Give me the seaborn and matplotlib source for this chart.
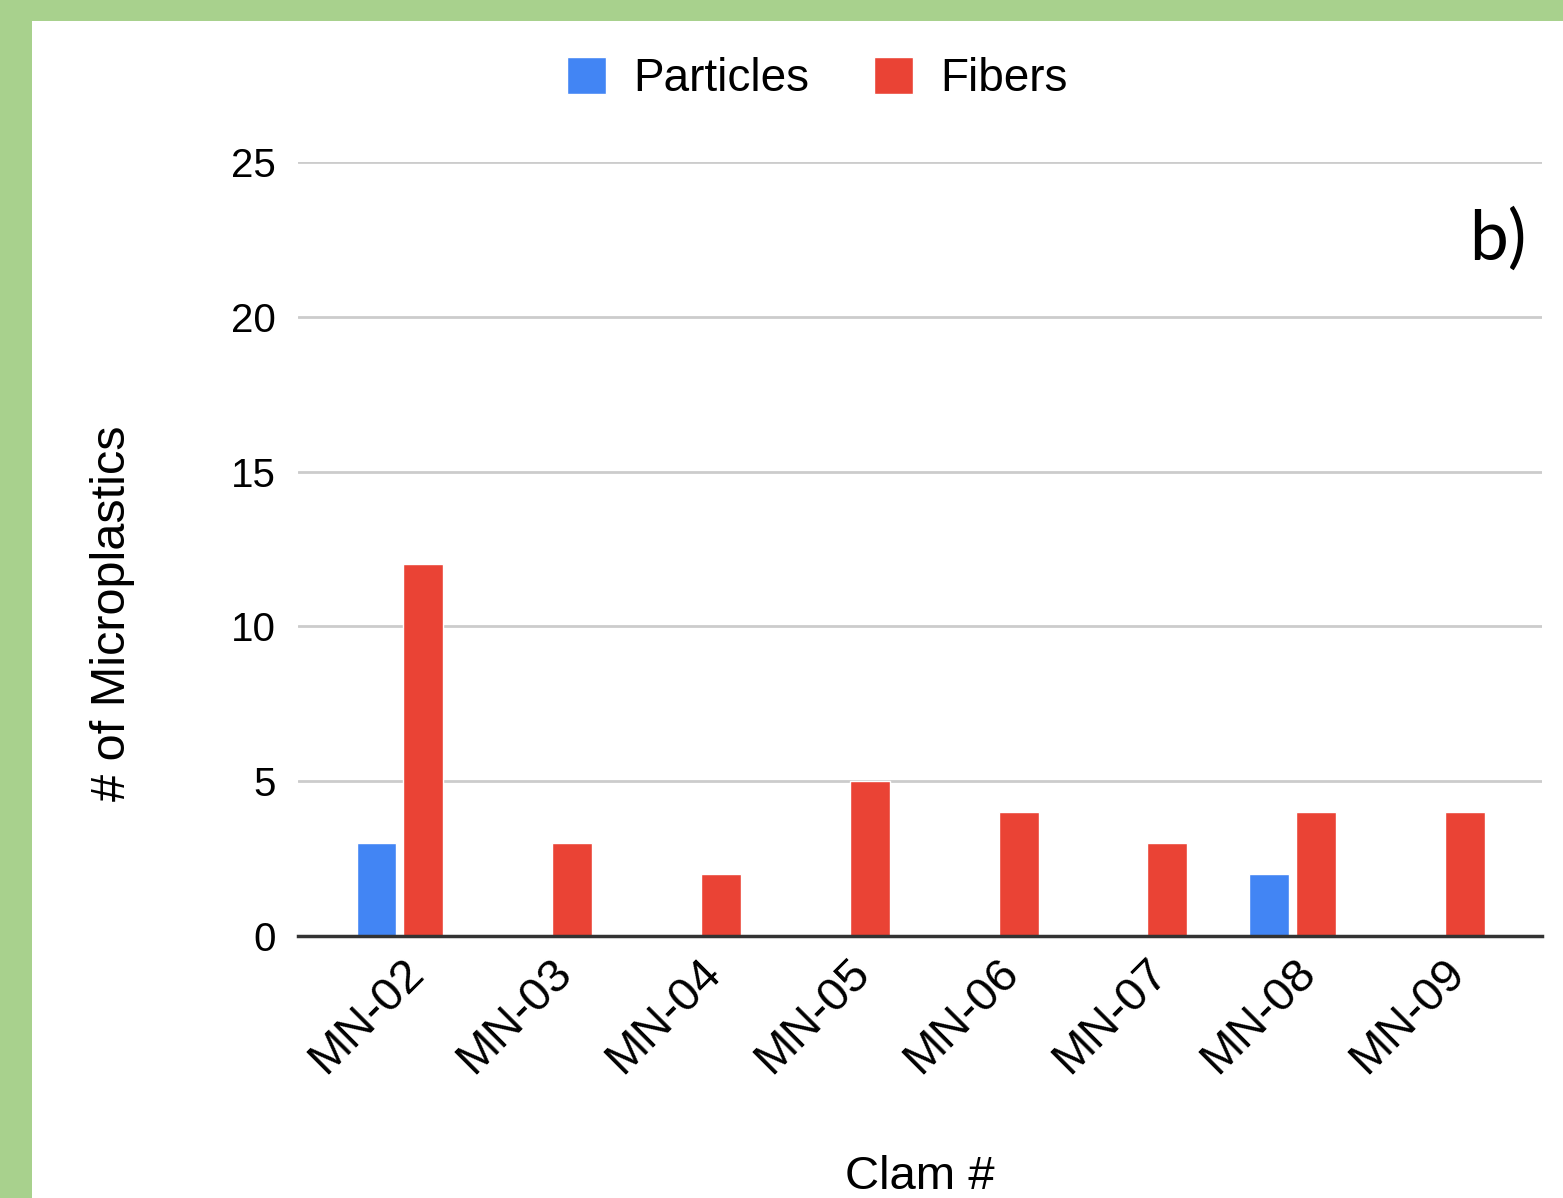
import pandas as pd
import numpy as np
import seaborn as sns
import matplotlib.pyplot as plt
from matplotlib.patches import Rectangle
import matplotlib.transforms as mtransforms

# Chart data
clams = ['MN-02', 'MN-03', 'MN-04', 'MN-05', 'MN-06', 'MN-07', 'MN-08', 'MN-09']
particles = [3, 0, 0, 0, 0, 0, 2, 0]
fibers = [12, 3, 2, 5, 4, 3, 4, 4]
series_names = ['Particles', 'Fibers']
y_ticks = [0, 5, 10, 15, 20, 25]

df = pd.DataFrame({
    'clam': clams * 2,
    'count': particles + fibers,
    'type': [series_names[0]] * len(clams) + [series_names[1]] * len(clams),
})

sns.set_theme(style='white')
plt.rcParams['font.family'] = ['Liberation Sans', 'DejaVu Sans']
plt.rcParams['text.color'] = 'black'

fig = plt.figure(figsize=(15.63, 11.98), dpi=100)
fig.patch.set_facecolor('#a8d18d')
# white panel inside the green frame
fig.patches.append(Rectangle((32 / 1563, 0), 1 - 32 / 1563, 1 - 21 / 1198,
                             transform=fig.transFigure, facecolor='white',
                             edgecolor='none', zorder=-10))

ax = fig.add_axes([298 / 1563, 1 - 936 / 1198, (1542 - 298) / 1563, (936 - 162) / 1198])
ax.set_facecolor('none')

sns.barplot(data=df, x='clam', y='count', hue='type', palette=['#4285f4', '#ea4335'],
            width=0.63, gap=0.15, ax=ax, saturation=1)

ax.set_ylim(0, 25)
ax.set_xlim(-0.685, 7.675)
ax.set_yticks(y_ticks)
ax.yaxis.grid(True, color='#cccccc', linewidth=2)
ax.set_axisbelow(True)
for s in ['top', 'right', 'left']:
    ax.spines[s].set_visible(False)
ax.spines['bottom'].set_color('#333333')
ax.spines['bottom'].set_linewidth(2.5)
ax.spines['bottom'].set_zorder(5)
ax.tick_params(axis='y', length=0, labelsize=29, colors='black', pad=16)
ax.tick_params(axis='x', length=0, labelsize=34, colors='black')

ax.set_xticks(range(len(clams)))
ax.set_xticklabels(clams, rotation=45, ha='right', rotation_mode='anchor')
offset = mtransforms.ScaledTranslation(0.01, -0.1, fig.dpi_scale_trans)
for lbl in ax.get_xticklabels():
    lbl.set_transform(lbl.get_transform() + offset)

ax.set_xlabel('Clam #', fontsize=34, color='black')
ax.set_ylabel('# of Microplastics', fontsize=35, color='black')
ax.xaxis.set_label_coords(0.5, -0.283)
ax.yaxis.set_label_coords(-0.131, 0.417)

handles, labels = ax.get_legend_handles_labels()
ax.get_legend().remove()
fig.legend(handles, labels, loc='center', bbox_to_anchor=(0.523, 0.934), ncol=2,
           frameon=False, fontsize=33, handlelength=0.85, handleheight=0.85,
           handletextpad=0.6, columnspacing=1.4, labelcolor='black')

fig.text(0.958, 0.80, 'b)', fontsize=50, family=['Lato', 'DejaVu Sans'],
         ha='center', va='center', color='black')

plt.savefig('out.png', dpi=100, facecolor=fig.get_facecolor())
